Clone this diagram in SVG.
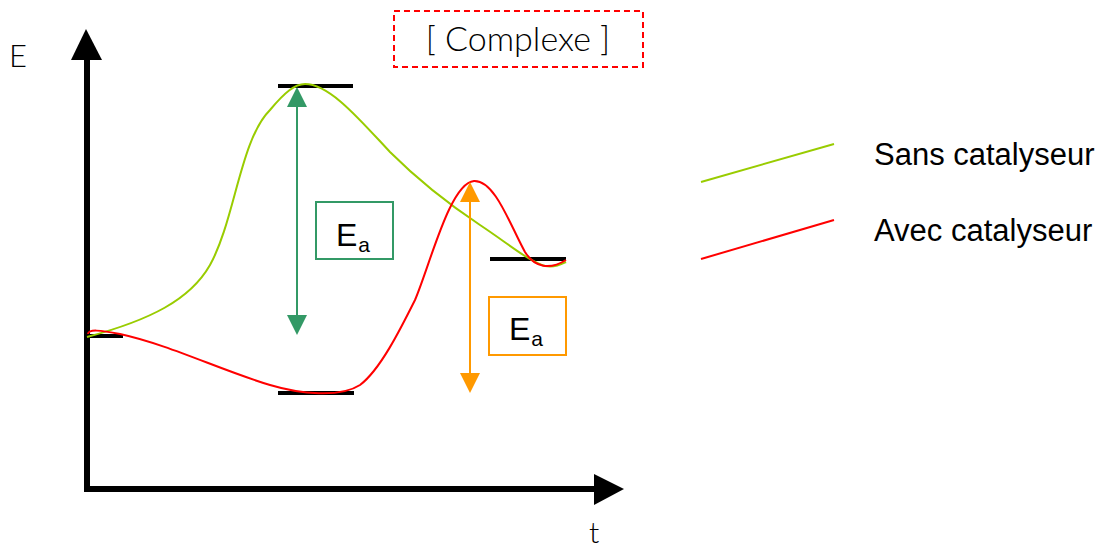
<svg xmlns="http://www.w3.org/2000/svg" width="1103" height="547" viewBox="0 0 1103 547">
<style>
.thin{font-family:Lato,"Liberation Sans",sans-serif;font-weight:300;fill:#000}
.lbl{font-family:"Liberation Sans",Arial,sans-serif;fill:#000}
.bar{stroke:#000;stroke-width:4;fill:none}
</style>
<rect width="1103" height="547" fill="#fff"/>
<g id="axes">
<line x1="87" y1="58" x2="87" y2="492" stroke="#000" stroke-width="6"/>
<polygon points="86,29 71,60 102,60" fill="#000"/>
<line x1="84" y1="489" x2="597" y2="489" stroke="#000" stroke-width="6"/>
<polygon points="594,474 624,489 594,505" fill="#000"/>
<text class="thin" x="9" y="67" font-size="31">E</text>
<text class="thin" x="589" y="543" font-size="30">t</text>
</g>
<g id="complexe">
<rect x="394" y="11" width="249" height="56" fill="none" stroke="#ff0000" stroke-width="2" stroke-dasharray="6,4"/>
<text class="thin" x="518" y="51" font-size="34" text-anchor="middle">[ Complexe ]</text>
</g>
<g id="levels">
<line class="bar" x1="278" y1="86" x2="353" y2="86"/>
<line class="bar" x1="87" y1="336" x2="123" y2="336"/>
<line class="bar" x1="278" y1="393" x2="354" y2="393"/>
<line class="bar" x1="490" y1="259" x2="566" y2="259"/>
</g>
<g id="curves" fill="none" stroke-width="2">
<path stroke="#99cc00" d="M87,337 C150,320 190,300 210,265 C235,220 240,140 270,110 C285,92 295,84 305,84 C330,84 360,120 390,152 C420,182 450,205 480,225 C510,245 530,262 545,266 C555,268 562,264 566,262"/>
<path stroke="#ff0000" d="M88,334 C88,329 100,330 120,334 C170,345 220,370 270,385 C300,394 340,398 360,385 C380,370 400,330 415,300 C430,265 450,183 474,181 C495,180 510,225 525,252 C535,268 550,270 566,260"/>
</g>
<g id="connectors">
<line x1="297" y1="100" x2="297" y2="318" stroke="#339966" stroke-width="2"/>
<polygon points="297,87 287,107 307,107" fill="#339966"/>
<polygon points="297,335 287,315 307,315" fill="#339966"/>
<line x1="470" y1="198" x2="470" y2="378" stroke="#ff9900" stroke-width="2"/>
<polygon points="470,182 460,202 480,202" fill="#ff9900"/>
<polygon points="470,393 460,373 480,373" fill="#ff9900"/>
</g>
<g id="ea-green">
<rect x="316" y="202" width="77" height="57" fill="#fff" stroke="#339966" stroke-width="2"/>
<text class="lbl" x="336" y="246" font-size="32">E<tspan font-size="21" dx="1" dy="6">a</tspan></text>
</g>
<g id="ea-orange">
<rect x="489" y="297" width="77" height="58" fill="#fff" stroke="#ff9900" stroke-width="2"/>
<text class="lbl" x="509" y="340" font-size="32">E<tspan font-size="21" dx="1" dy="6">a</tspan></text>
</g>
<g id="legend">
<line x1="701" y1="182" x2="834" y2="144" stroke="#99cc00" stroke-width="2"/>
<line x1="701" y1="259" x2="834" y2="220" stroke="#ff0000" stroke-width="2"/>
<text class="lbl" x="874" y="165" font-size="31">Sans catalyseur</text>
<text class="lbl" x="874" y="241" font-size="31">Avec catalyseur</text>
</g>
</svg>
